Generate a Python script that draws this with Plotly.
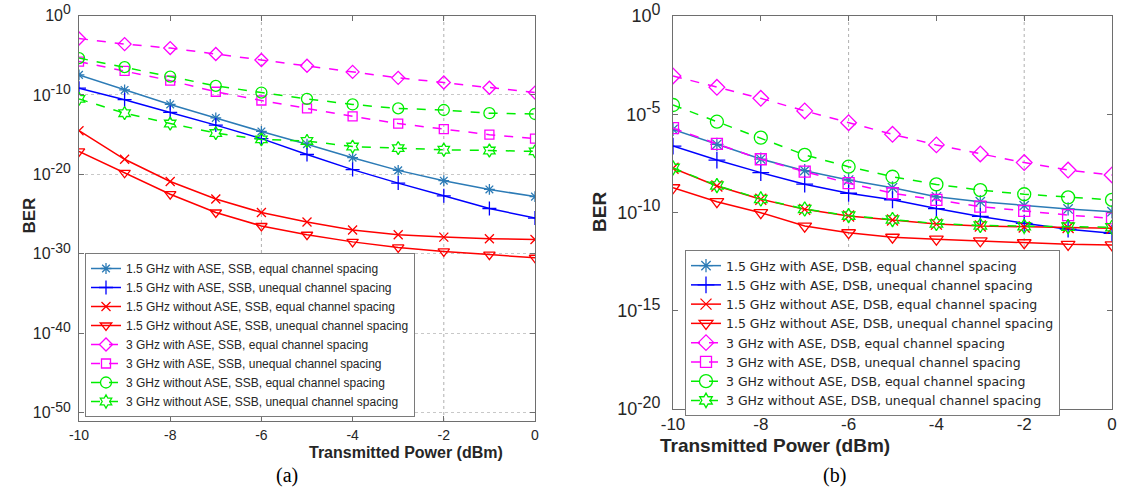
import plotly.graph_objects as go

# ---------------- data ----------------
power_dbm = [-10, -9, -8, -7, -6, -5, -4, -3, -2, -1, 0]

# panel (a) SSB, log10(BER)
ssb_15_ase_eq = [-7.47, -9.37, -11.2, -12.9, -14.6, -16.2, -17.9, -19.5, -20.8, -21.9, -22.8]
ssb_15_ase_uneq = [-9.15, -10.6, -12.2, -13.8, -15.5, -17.5, -19.4, -21.1, -22.7, -24.3, -25.5]
ssb_15_noase_eq = [-14.5, -18.1, -20.9, -23.1, -24.8, -26.0, -27.0, -27.6, -27.9, -28.1, -28.2]
ssb_15_noase_uneq = [-17.1, -19.8, -22.5, -24.8, -26.5, -27.6, -28.5, -29.2, -29.7, -30.1, -30.5]
ssb_3_ase_eq = [-2.9, -3.6, -4.1, -4.85, -5.6, -6.33, -7.1, -7.85, -8.44, -9.1, -9.7]
ssb_3_ase_uneq = [-5.8, -6.96, -8.2, -9.6, -10.7, -11.7, -12.7, -13.6, -14.3, -15.0, -15.5]
ssb_3_noase_eq = [-5.36, -6.5, -7.7, -8.86, -9.7, -10.5, -11.2, -11.7, -11.9, -12.3, -12.4]
ssb_3_noase_uneq = [-10.5, -12.3, -13.6, -14.8, -15.6, -15.8, -16.5, -16.7, -16.9, -17.0, -17.1]

# panel (b) DSB, log10(BER)
dsb_15_ase_eq = [-5.77, -6.53, -7.28, -7.87, -8.35, -8.74, -9.2, -9.45, -9.65, -9.82, -9.96]
dsb_15_ase_uneq = [-6.62, -7.33, -7.97, -8.56, -9.02, -9.35, -9.8, -10.2, -10.55, -10.85, -11.06]
dsb_15_noase_eq = [-7.75, -8.65, -9.33, -9.84, -10.18, -10.38, -10.59, -10.69, -10.74, -10.76, -10.8]
dsb_15_noase_uneq = [-8.74, -9.45, -10.01, -10.69, -11.03, -11.26, -11.36, -11.44, -11.54, -11.62, -11.65]
dsb_3_ase_eq = [-3.05, -3.63, -4.19, -4.83, -5.43, -6.02, -6.56, -7.02, -7.46, -7.84, -8.09]
dsb_3_ase_uneq = [-5.71, -6.51, -7.29, -7.92, -8.51, -9.02, -9.36, -9.7, -9.92, -10.13, -10.3]
dsb_3_noase_eq = [-4.53, -5.38, -6.19, -7.07, -7.67, -8.18, -8.57, -8.86, -9.07, -9.23, -9.36]
dsb_3_noase_uneq = [-7.73, -8.63, -9.31, -9.82, -10.16, -10.36, -10.56, -10.66, -10.7, -10.72, -10.75]

labels_a = [
    "1.5 GHz with ASE, SSB, equal channel spacing",
    "1.5 GHz with ASE, SSB, unequal channel spacing",
    "1.5 GHz without ASE, SSB, equal channel spacing",
    "1.5 GHz without ASE, SSB, unequal channel spacing",
    "3 GHz with ASE, SSB, equal channel spacing",
    "3 GHz with ASE, SSB, unequal channel spacing",
    "3 GHz without ASE, SSB, equal channel spacing",
    "3 GHz without ASE, SSB, unequal channel spacing",
]
labels_b = [
    "1.5 GHz with ASE, DSB, equal channel spacing",
    "1.5 GHz with ASE, DSB, unequal channel spacing",
    "1.5 GHz without ASE, DSB, equal channel spacing",
    "1.5 GHz without ASE, DSB, unequal channel spacing",
    "3 GHz with ASE, DSB, equal channel spacing",
    "3 GHz with ASE, DSB, unequal channel spacing",
    "3 GHz without ASE, DSB, equal channel spacing",
    "3 GHz without ASE, DSB, unequal channel spacing",
]
x_ticks = [-10, -8, -6, -4, -2, 0]
y_ticks_a = [0, -10, -20, -30, -40, -50]
y_ticks_b = [0, -5, -10, -15, -20]

# ---------------- styles ----------------
styles = [
    dict(color="#2c7bb6", dash="solid", symbol="asterisk-open"),
    dict(color="#0000ff", dash="solid", symbol="cross-thin-open"),
    dict(color="#ff0000", dash="solid", symbol="x-thin-open"),
    dict(color="#ff0000", dash="solid", symbol="triangle-down-open"),
    dict(color="#ff00ff", dash="dash", symbol="diamond-open"),
    dict(color="#ff00ff", dash="dash", symbol="square-open"),
    dict(color="#00ee00", dash="dash", symbol="circle-open"),
    dict(color="#00ee00", dash="dash", symbol="hexagram-open"),
]
sizes_a = [9, 10, 9, 10, 10, 9, 11, 10]
sizes_b = [11, 12, 11, 12, 12, 11, 13, 11]

series_a = [ssb_15_ase_eq, ssb_15_ase_uneq, ssb_15_noase_eq, ssb_15_noase_uneq,
            ssb_3_ase_eq, ssb_3_ase_uneq, ssb_3_noase_eq, ssb_3_noase_uneq]
series_b = [dsb_15_ase_eq, dsb_15_ase_uneq, dsb_15_noase_eq, dsb_15_noase_uneq,
            dsb_3_ase_eq, dsb_3_ase_uneq, dsb_3_noase_eq, dsb_3_noase_uneq]

fig = go.Figure()

for vals, name, st, sz in zip(series_a, labels_a, styles, sizes_a):
    fig.add_trace(go.Scatter(
        x=power_dbm, y=[10 ** v for v in vals], name=name, mode="lines+markers",
        xaxis="x", yaxis="y", legend="legend",
        line=dict(color=st["color"], dash=st["dash"], width=1.5),
        marker=dict(symbol=st["symbol"], size=sz, color=st["color"],
                    line=dict(color=st["color"], width=1.3)),
    ))

for vals, name, st, sz in zip(series_b, labels_b, styles, sizes_b):
    fig.add_trace(go.Scatter(
        x=power_dbm, y=[10 ** v for v in vals], name=name, mode="lines+markers",
        xaxis="x2", yaxis="y2", legend="legend2",
        line=dict(color=st["color"], dash=st["dash"], width=1.5),
        marker=dict(symbol=st["symbol"], size=sz, color=st["color"],
                    line=dict(color=st["color"], width=1.3)),
    ))

FONT = "Arial, Liberation Sans, sans-serif"
TXT = "#262626"
axis_common = dict(showline=True, linecolor="#6e6e6e", linewidth=1, mirror="ticks",
                   ticks="inside", ticklen=5, tickcolor="#6e6e6e", zeroline=False,
                   automargin=False)


def pow_labels(exps, sup_px):
    return ["10<sup><span style='font-size:%dpx'>%d</span></sup>" % (sup_px, e) for e in exps]


W, H = 1121, 504
fig.update_layout(
    template="none",
    width=W, height=H,
    margin=dict(l=0, r=0, t=0, b=0, pad=0, autoexpand=False),
    paper_bgcolor="white", plot_bgcolor="white",
    font=dict(family=FONT, color=TXT),
    xaxis=dict(domain=[79 / W, 535 / W], range=[-10, 0], tickvals=x_ticks,
               ticktext=[str(t) for t in x_ticks], showgrid=False, anchor="y",
               tickfont=dict(family=FONT, size=14, color=TXT), ticklabelstandoff=1,
               **axis_common),
    yaxis=dict(domain=[1 - 421 / H, 1 - 15.5 / H], type="log", range=[-51.05, 0],
               tickvals=[10 ** t for t in y_ticks_a],
               ticktext=pow_labels(y_ticks_a, 14),
               tickfont=dict(family=FONT, size=16, color=TXT), ticklabelstandoff=4,
               showgrid=True, gridcolor="#c8c8c8", griddash="dot", gridwidth=1,
               anchor="x", **axis_common),
    xaxis2=dict(domain=[673 / W, 1112 / W], range=[-10, 0], tickvals=x_ticks,
                ticktext=[str(t) for t in x_ticks], showgrid=False, anchor="y2",
                tickfont=dict(family=FONT, size=17, color=TXT), ticklabelstandoff=0,
                **axis_common),
    yaxis2=dict(domain=[1 - 409 / H, 1 - 16 / H], type="log", range=[-20, 0],
                tickvals=[10 ** t for t in y_ticks_b],
                ticktext=pow_labels(y_ticks_b, 16),
                tickfont=dict(family=FONT, size=18, color=TXT), ticklabelstandoff=8,
                showgrid=False, anchor="x2", **axis_common),
    legend=dict(x=85 / W, y=1 - 253 / H, xanchor="left", yanchor="top",
                bgcolor="white", bordercolor="#7a7a7a", borderwidth=1,
                font=dict(family=FONT, size=12, color=TXT),
                itemclick=False, tracegroupgap=0),
    legend2=dict(x=685 / W, y=1 - 250 / H, xanchor="left", yanchor="top",
                 bgcolor="white", bordercolor="#7a7a7a", borderwidth=1,
                 font=dict(family="DejaVu Sans, sans-serif", size=12.5, color=TXT),
                 itemclick=False, tracegroupgap=0),
    showlegend=True,
)

# sparse vertical dotted grid lines as in the original
for xr, yr in (("x", "y domain"), ("x2", "y2 domain")):
    for gx in (-6, -2):
        fig.add_shape(type="line", xref=xr, yref=yr, x0=gx, x1=gx, y0=0, y1=1,
                      line=dict(color="#b0b0b0", width=1, dash="dot"), layer="below")

# axis titles and panel captions
fig.add_annotation(text="<b>BER</b>", x=17 / W, y=1 - 216 / H, xref="paper", yref="paper",
                   textangle=-90, showarrow=False, font=dict(family=FONT, size=17, color=TXT))
fig.add_annotation(text="<b>BER</b>", x=599 / W, y=1 - 212 / H, xref="paper", yref="paper",
                   textangle=-90, showarrow=False, font=dict(family=FONT, size=19, color=TXT))
fig.add_annotation(text="<b>Transmitted Power (dBm)</b>", x=307 / W, y=1 - 463 / H, xref="paper",
                   yref="paper", showarrow=False, font=dict(family=FONT, size=16, color=TXT))
fig.add_annotation(text="<b>Transmitted Power (dBm)</b>", x=892 / W, y=1 - 458 / H, xref="paper",
                   yref="paper", showarrow=False, font=dict(family=FONT, size=19, color=TXT))
fig.add_annotation(text="(a)", x=274 / W, y=1 - 489 / H, xref="paper", yref="paper",
                   showarrow=False, font=dict(family="Liberation Serif, Times New Roman, serif",
                                              size=20, color="black"))
fig.add_annotation(text="(b)", x=848 / W, y=1 - 489 / H, xref="paper", yref="paper",
                   showarrow=False, font=dict(family="Liberation Serif, Times New Roman, serif",
                                              size=20, color="black"))

fig.write_html("out.html")
